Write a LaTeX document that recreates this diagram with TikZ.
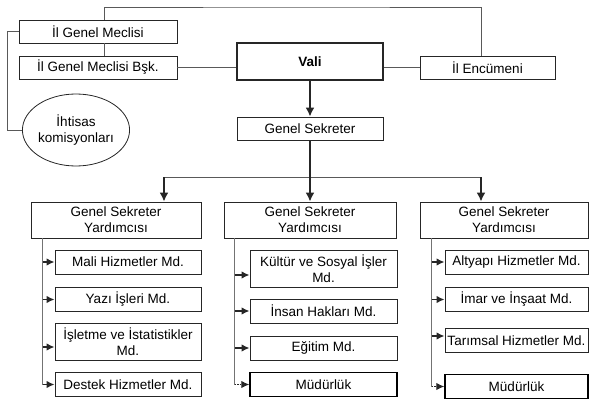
\documentclass[tikz,border=0pt]{standalone}
\usepackage{fontspec}
\setmainfont{Liberation Sans}
\usetikzlibrary{shapes.geometric,arrows.meta}
\tikzset{
  box/.style={draw=black!85, line width=0.8pt, inner sep=1pt, align=center, minimum height=24pt},
  valibox/.style={box, line width=1.3pt, font=\fontsize{13.5}{16}\selectfont\bfseries},
  leftcol/.style={box, minimum width=146pt},
  midcol/.style={box, minimum width=147pt},
  rightcol/.style={box, minimum width=143pt},
  gsybox/.style={box, minimum height=36pt},
  mudbox/.style={box, draw=black, line width=1.5pt},
  link/.style={draw=black!65, line width=0.7pt},
  spine/.style={draw=black!55, line width=0.7pt},
  stub/.style={draw=black!85, line width=1.5pt, -{Latex[length=8pt,width=7.5pt]}},
  dotstub/.style={stub, densely dotted, line width=1pt},
  bigarrow/.style={draw=black!85, line width=2.2pt, -{Latex[length=9pt,width=9pt]}},
}
\begin{document}
\begin{tikzpicture}[x=1pt, y=-1pt, font=\fontsize{13.5}{16}\selectfont]
    \useasboundingbox (0,0) rectangle (589,412);
    \node[box, minimum width=158pt, minimum height=23pt] (gm) at (98,31.5) {İl Genel Meclisi};
    \node[box, minimum width=158pt, minimum height=23pt] (gmb) at (98,67.5) {İl Genel Meclisi Bşk.};
    \node[valibox, minimum width=146pt, minimum height=37pt] (vali) at (310,61.5) {Vali};
    \node[box, minimum width=135pt, minimum height=23pt] (enc) at (487.5,67.5) {İl Encümeni};
    \node[draw=black!85, line width=0.8pt, ellipse, minimum width=90pt, minimum height=72pt, inner sep=0pt, align=center] (iht) at (76,130) {İhtisas\\komisyonları};
    \node[box, minimum width=146pt, minimum height=23pt] (gs) at (310,128.5) {Genel Sekreter};

    \node[gsybox, minimum width=170pt] (gsy1) at (116,220) {Genel Sekreter\\Yardımcısı};
    \node[gsybox, minimum width=172pt] (gsy2) at (310,220) {Genel Sekreter\\Yardımcısı};
    \node[gsybox, minimum width=168pt] (gsy3) at (504,220) {Genel Sekreter\\Yardımcısı};

    \node[leftcol] (mali) at (128,262) {Mali Hizmetler Md.};
    \node[leftcol] (yazi) at (128,299.5) {Yazı İşleri Md.};
    \node[leftcol, minimum height=37pt] (isletme) at (128,341.5) {İşletme ve İstatistikler\\Md.};
    \node[leftcol] (destek) at (128,384.5) {Destek Hizmetler Md.};

    \node[midcol, minimum height=37pt] (kultur) at (323.5,268.5) {Kültür ve Sosyal İşler\\Md.};
    \node[midcol] (insan) at (323.5,311) {İnsan Hakları Md.};
    \node[midcol] (egitim) at (323.5,348) {Eğitim Md.};
    \node[midcol, mudbox] (mud1) at (323.5,384.5) {Müdürlük};

    \node[rightcol] (altyapi) at (516.5,262) {Altyapı Hizmetler Md.};
    \node[rightcol] (imar) at (516.5,299.5) {İmar ve İnşaat Md.};
    \node[rightcol] (tarim) at (516.5,340.5) {Tarımsal Hizmetler Md.};
    \node[rightcol, mudbox] (mud2) at (516.5,386.5) {Müdürlük};

    \coordinate (top) at (300,7);
    \draw[link] ([xshift=6pt]gm.north) |- (top) -| ([xshift=-6.5pt]enc.north);
    \draw[link] ([xshift=6pt]gm.south) -- ([xshift=6pt]gmb.north);
    \draw[link] (gmb.east) -- (gmb.east -| vali.west);
    \draw[link] (enc.west -| vali.east) -- (enc.west);
    \draw[link] (gm.west) -- ++(-11,0) |- (iht.west);
    \draw[bigarrow] (vali) -- (gs);

    \coordinate (h1) at (164,177);
    \coordinate (h3) at (481,177);
    \draw[link] (h1) -- (h3);
    \draw[bigarrow] (gs) -- (gsy2);
    \draw[bigarrow] (h1) -- (h1 |- gsy1.north);
    \draw[bigarrow] (h3) -- (h3 |- gsy3.north);

    \coordinate (s1) at ([xshift=12pt]gsy1.south west);
    \coordinate (s2) at ([xshift=11pt]gsy2.south west);
    \coordinate (s3) at ([xshift=12pt]gsy3.south west);
    \draw[spine] (s1) -- (s1 |- destek.west);
    \draw[spine] (s2) -- (s2 |- mud1.west);
    \draw[spine] (s3) -- (s3 |- mud2.west);

    \foreach \n in {mali,yazi,destek}
        \draw[stub] (\n.west -| s1) -- (\n.west);
    \foreach \n in {insan,egitim}
        \draw[stub] (\n.west -| s2) -- (\n.west);
    \foreach \n in {altyapi,imar}
        \draw[stub] (\n.west -| s3) -- (\n.west);
    \draw[stub] ([yshift=-5.5pt]isletme.west -| s1) -- ([yshift=-5.5pt]isletme.west);
    \draw[stub] ([yshift=-6.5pt]kultur.west -| s2) -- ([yshift=-6.5pt]kultur.west);
    \draw[stub] ([yshift=4.5pt]tarim.west -| s3) -- ([yshift=4.5pt]tarim.west);
    \draw[dotstub] (mud1.west -| s2) -- (mud1.west);
    \draw[dotstub] (mud2.west -| s3) -- (mud2.west);
\end{tikzpicture}
\end{document}
